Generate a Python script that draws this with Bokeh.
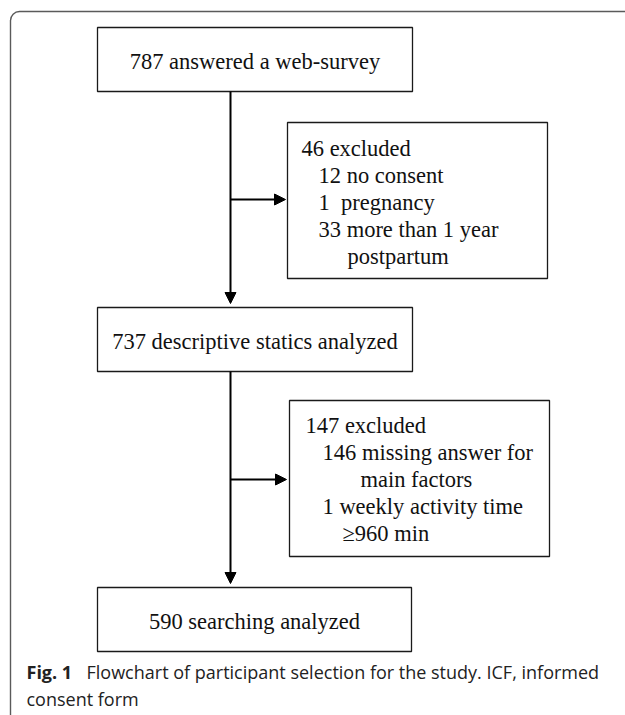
from bokeh.plotting import figure
from bokeh.models import Range1d, Arrow, NormalHead
from bokeh.core.properties import value
from bokeh.embed import file_html
from bokeh.resources import INLINE

# ---- data (flow counts and texts) ----
stage_counts = [787, 737, 590]
stage_texts = ["answered a web-survey", "descriptive statics analyzed", "searching analyzed"]
excl1_lines = ["46 excluded", "12 no consent", "1\u00a0 pregnancy", "33 more than 1 year", "postpartum"]
excl2_lines = ["147 excluded", "146 missing answer for", "main factors", "1 weekly activity time", "\u2265960 min"]
caption_bold = "Fig. 1"
caption_lines = ["Flowchart of participant selection for the study. ICF, informed", "consent form"]

# ---- layout (page pixel coordinates) ----
W, H = 625, 715
OFF = 0
TB = -7  # baseline correction
def X(v): return v - OFF
def Y(v): return v - OFF

stage_boxes = [(97, 412, 27, 91), (97, 412, 307, 371), (97, 411, 587, 651)]  # l, r, t, b
excl_boxes = [(287, 547, 122, 278), (289, 549, 400, 556)]
excl1_x = [301, 318, 318, 318, 347]
excl1_base = [155, 182, 209, 236, 263]
excl2_x = [305, 322, 360, 322, 342]
excl2_base = [432, 459, 486, 513, 540]
main_x = 230

p = figure(width=W, height=H, output_backend="svg", toolbar_location=None,
           x_range=Range1d(0, W), y_range=Range1d(H, 0), min_border=0)
p.axis.visible = False
p.grid.visible = False
p.outline_line_color = None
p.background_fill_color = "white"
p.border_fill_color = "white"

# outer rounded frame
p.quad(left=[X(10)], right=[X(660)], top=[Y(11)], bottom=[Y(760)],
       fill_color=None, line_color="#5a5a5a", line_width=1.4, border_radius=9)

serif = value("Liberation Serif")
FS = "22.5px"

# stage boxes
p.quad(left=[X(b[0]) for b in stage_boxes], right=[X(b[1]) for b in stage_boxes],
       top=[Y(b[2]) for b in stage_boxes], bottom=[Y(b[3]) for b in stage_boxes],
       fill_color="white", line_color="#1a1a1a", line_width=1.3)
p.text(x=[X((b[0] + b[1]) / 2) for b in stage_boxes],
       y=[Y((b[2] + b[3]) / 2 + 8.5 + TB) for b in stage_boxes],
       text=[f"{c} {t}" for c, t in zip(stage_counts, stage_texts)],
       text_font=serif, text_font_size=FS, text_align="center",
       text_baseline="alphabetic", text_color="#111111")

# exclusion boxes
p.quad(left=[X(b[0]) for b in excl_boxes], right=[X(b[1]) for b in excl_boxes],
       top=[Y(b[2]) for b in excl_boxes], bottom=[Y(b[3]) for b in excl_boxes],
       fill_color="white", line_color="#1a1a1a", line_width=1.3)
p.text(x=[X(v) for v in excl1_x], y=[Y(v + TB) for v in excl1_base], text=excl1_lines,
       text_font=serif, text_font_size=FS, text_align="left",
       text_baseline="alphabetic", text_color="#111111")
p.text(x=[X(v) for v in excl2_x], y=[Y(v + TB) for v in excl2_base], text=excl2_lines,
       text_font=serif, text_font_size=FS, text_align="left",
       text_baseline="alphabetic", text_color="#111111")

# arrows
def arrow(x0, y0, x1, y1):
    p.add_layout(Arrow(x_start=X(x0), y_start=Y(y0), x_end=X(x1), y_end=Y(y1),
                       line_width=2, line_color="black",
                       end=NormalHead(size=11, fill_color="black", line_color="black", line_width=1)))

arrow(main_x, 91, main_x, 303)
arrow(main_x, 371, main_x, 583)
arrow(main_x, 199, 285, 199)
arrow(main_x, 479, 286, 479)

# caption
p.text(x=[X(26)], y=[Y(678 + TB)], text=[caption_bold], text_font=value("Open Sans"),
       text_font_style="bold", text_font_size="18px", text_baseline="alphabetic",
       text_color="#222222")
p.text(x=[X(86), X(26)], y=[Y(678 + TB), Y(705 + TB)], text=caption_lines,
       text_font=value("Open Sans"), text_font_size="18px",
       text_baseline="alphabetic", text_color="#222222")

open("out.html", "w").write(file_html(p, INLINE))
